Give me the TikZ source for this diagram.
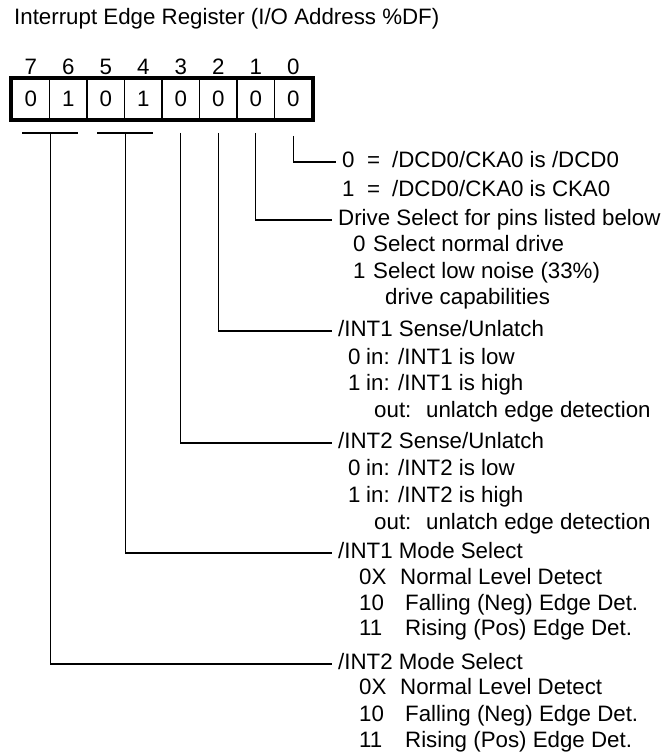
\documentclass[tikz,border=0pt]{standalone}
\usepackage{fontspec}
\setmainfont{Liberation Sans}
\usetikzlibrary{positioning}

\tikzset{
    bitcell/.style={draw, line width=1.5pt, minimum width=37.5pt, minimum height=40pt, inner sep=0pt},
    txt/.style={anchor=west, inner sep=0pt, text height=1em, text depth=0pt},
    head/.style={txt, inner xsep=6pt},
    wire/.style={line width=1.3pt},
    bar/.style={line width=2.2pt}
}

\begin{document}
\begin{tikzpicture}[x=1pt, y=-1pt, font=\fontsize{22.3}{27}\selectfont]
    \useasboundingbox (0,0) rectangle (670,753);
    \node[txt] (title) at (14,19) {Interrupt Edge Register (I/O Address \%DF)};
    \foreach \b/\v in {7/0,6/1,5/0,4/1,3/0,2/0,1/0,0/0} {
        \node[bitcell] (c\b) at ({30.75+37.5*(7-\b)}, 99) {\v};
        \node[inner sep=0pt, text depth=0pt, above=4pt of c\b] (n\b) {\b};
    }
    \draw[line width=4pt] (c7.north west) rectangle (c0.south east);

    \coordinate[below=13pt of c7.south east] (d76);
    \coordinate[below=13pt of c5.south east] (d54);
    \coordinate[below=13pt of c3] (d3);
    \coordinate[below=13pt of c2] (d2);
    \coordinate[below=13pt of c1] (d1);
    \coordinate[below=16pt of c0] (d0);
    \draw[bar] ([xshift=-28pt]d76) -- ([xshift=28pt]d76);
    \draw[bar] ([xshift=-28pt]d54) -- ([xshift=28pt]d54);

    \node[head] (h0) at (336,162) {\makebox[25pt][l]{0}\makebox[25pt][l]{=}/DCD0/CKA0 is /DCD0};
    \node[txt] (s0a) at (342,191) {\makebox[25pt][l]{1}\makebox[25pt][l]{=}/DCD0/CKA0 is CKA0};

    \node[head] (h1) at (332,220) {Drive Select for pins listed below};
    \node[txt] (s1a) at (353,246) {\makebox[20pt][l]{0}Select normal drive};
    \node[txt] (s1b) at (353,273) {\makebox[20pt][l]{1}Select low noise (33\%)};
    \node[txt] (s1c) at (385,299) {drive capabilities};

    \node[head] (h2) at (332,331) {/INT1 Sense/Unlatch};
    \node[txt] (s2a) at (348,359) {\makebox[18pt][l]{0}\makebox[32pt][l]{in:}/INT1 is low};
    \node[txt] (s2b) at (348,385.5) {\makebox[18pt][l]{1}\makebox[32pt][l]{in:}/INT1 is high};
    \node[txt] (s2c) at (374,412) {\makebox[52pt][l]{out:}unlatch edge detection};

    \node[head] (h3) at (332,443) {/INT2 Sense/Unlatch};
    \node[txt] (s3a) at (348,470) {\makebox[18pt][l]{0}\makebox[32pt][l]{in:}/INT2 is low};
    \node[txt] (s3b) at (348,497) {\makebox[18pt][l]{1}\makebox[32pt][l]{in:}/INT2 is high};
    \node[txt] (s3c) at (374,524) {\makebox[52pt][l]{out:}unlatch edge detection};

    \node[head] (h54) at (332,553) {/INT1 Mode Select};
    \node[txt] (s54a) at (359,579) {\makebox[41pt][l]{0X}Normal Level Detect};
    \node[txt] (s54b) at (359,605) {\makebox[46pt][l]{10}Falling (Neg) Edge Det.};
    \node[txt] (s54c) at (359,630) {\makebox[46pt][l]{11}Rising (Pos) Edge Det.};

    \node[head] (h76) at (332,664) {/INT2 Mode Select};
    \node[txt] (s76a) at (359,689) {\makebox[41pt][l]{0X}Normal Level Detect};
    \node[txt] (s76b) at (359,716) {\makebox[46pt][l]{10}Falling (Neg) Edge Det.};
    \node[txt] (s76c) at (359,742) {\makebox[46pt][l]{11}Rising (Pos) Edge Det.};

    \draw[wire] (d0) |- (h0.west);
    \draw[wire] (d1) |- (h1.west);
    \draw[wire] (d2) |- (h2.west);
    \draw[wire] (d3) |- (h3.west);
    \draw[wire] (d54) |- (h54.west);
    \draw[wire] (d76) |- (h76.west);
\end{tikzpicture}
\end{document}
